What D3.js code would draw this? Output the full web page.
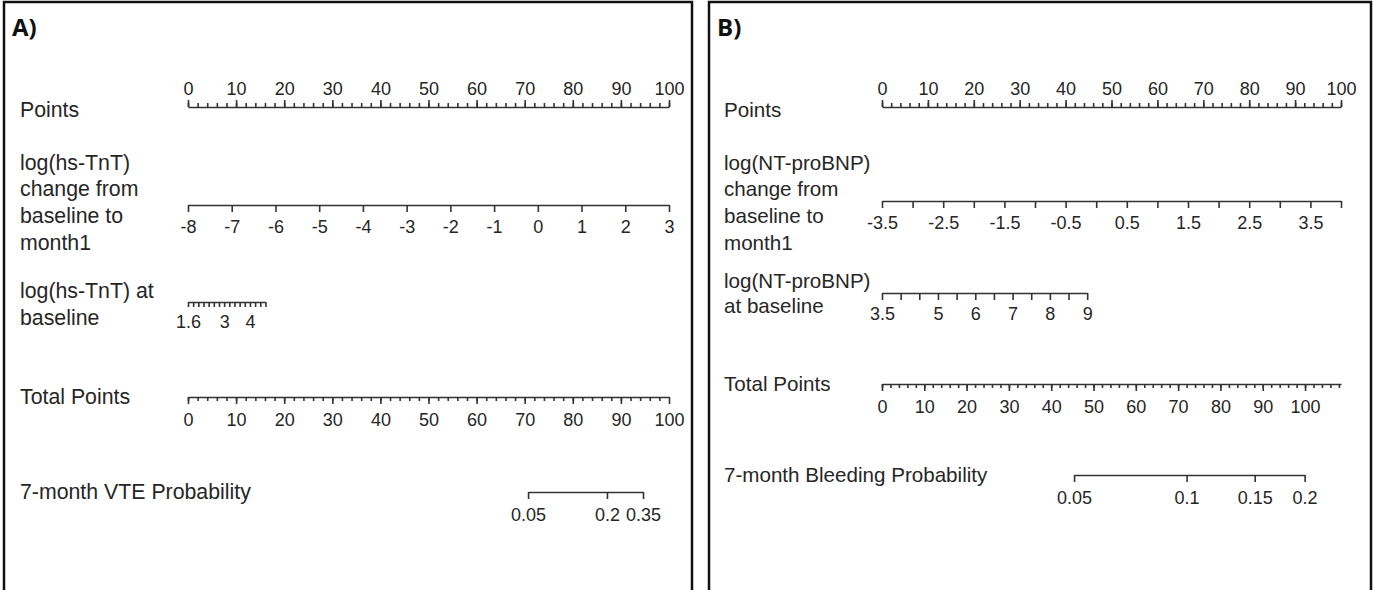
<!DOCTYPE html>
<html lang="en">
<head>
    <meta charset="UTF-8">
    <title>Nomograms: VTE and Bleeding Probability</title>
    <script src="https://cdnjs.cloudflare.com/ajax/libs/d3/7.8.5/d3.min.js"></script>
    <style>
        body { margin: 0; background: #fff; }
        svg { display: block; }
        .lbl { font-family: "Liberation Sans", Arial, sans-serif; fill: #262626; }
        .axis text { font-family: "Liberation Sans", Arial, sans-serif; fill: #262626; }
        .axis path, .axis line { stroke: #333; stroke-width: 1.6; }
    </style>
</head>
<body>
    <svg id="chart" width="1373" height="590"></svg>
    <script>
        // ---- Panel A data (VTE) ----
        const pointsTicksA = [0, 10, 20, 30, 40, 50, 60, 70, 80, 90, 100];
        const changeTicksA = [-8, -7, -6, -5, -4, -3, -2, -1, 0, 1, 2, 3];
        const changePtsA = [0, 100];                 // points at -8 and 3
        const baseTicksA = [1.6, 1.8, 2, 2.2, 2.4, 2.6, 2.8, 3, 3.2, 3.4, 3.6, 3.8, 4, 4.2, 4.4, 4.6];
        const baseLabelsA = [1.6, 3, 4];
        const basePtsA = [0, 16.1];                  // points at 1.6 and 4.6
        const totalTicksA = [0, 10, 20, 30, 40, 50, 60, 70, 80, 90, 100];
        const totalMaxA = 100;
        const vteProb = [0.05, 0.2, 0.35];
        const vteProbPts = [70.7, 87.1, 94.6];       // total points at each probability

        // ---- Panel B data (Bleeding) ----
        const pointsTicksB = [0, 10, 20, 30, 40, 50, 60, 70, 80, 90, 100];
        const changeTicksB = [-3.5, -3, -2.5, -2, -1.5, -1, -0.5, 0, 0.5, 1, 1.5, 2, 2.5, 3, 3.5, 4];
        const changeLabelsB = [-3.5, -2.5, -1.5, -0.5, 0.5, 1.5, 2.5, 3.5];
        const changePtsB = [0, 100];                 // points at -3.5 and 4
        const baseTicksB = [3.5, 4, 4.5, 5, 5.5, 6, 6.5, 7, 7.5, 8, 8.5, 9];
        const baseLabelsB = [3.5, 5, 6, 7, 8, 9];
        const basePtsB = [0, 44.7];                  // points at 3.5 and 9
        const totalTicksB = [0, 10, 20, 30, 40, 50, 60, 70, 80, 90, 100];
        const totalMaxB = 108.5;
        const bleedProb = [0.05, 0.1, 0.15, 0.2];
        const bleedProbPts = [45.4, 72.0, 88.1, 99.9];

        const svg = d3.select("#chart");
        const tickSize = 18;

        function axisRow(g, scale, y, opt) {
            const ax = (opt.top ? d3.axisTop(scale) : d3.axisBottom(scale))
                .tickValues(opt.ticks)
                .tickSize(opt.len)
                .tickSizeOuter(0)
                .tickPadding(opt.pad)
                .tickFormat(d => (opt.labels ? opt.labels.includes(d) : true) ? String(d) : "");
            const a = g.append("g").attr("transform", `translate(0,${y})`).call(ax);
            a.attr("class", "axis");
            a.selectAll("text").attr("font-size", tickSize + "px");
            return a;
        }

        function minorRow(g, scale, y, values, top) {
            const ax = (top ? d3.axisTop(scale) : d3.axisBottom(scale))
                .tickValues(values).tickSize(4).tickSizeOuter(0).tickFormat("");
            const a = g.append("g").attr("transform", `translate(0,${y})`).call(ax);
            a.attr("class", "axis");
            a.select(".domain").remove();
        }

        function label(g, x, lines, fs) {
            lines.forEach(([t, y]) => {
                g.append("text").attr("class", "lbl")
                    .attr("x", x).attr("y", y).attr("dy", "0.35em")
                    .attr("font-size", fs + "px").text(t);
            });
        }

        function drawPanel(p) {
            const g = svg.append("g");
            const fs = p.fs;
            g.append("rect")
                .attr("x", p.box[0]).attr("y", 2)
                .attr("width", p.box[1] - p.box[0]).attr("height", 600)
                .attr("fill", "none").attr("stroke", "#111").attr("stroke-width", 2.5);
            g.append("text")
                .attr("x", p.box[0] + 8).attr("y", 36)
                .attr("font-family", "'Open Sans', 'Liberation Sans', sans-serif")
                .attr("font-weight", "bold").attr("font-size", "24px").attr("fill", "#111")
                .text(p.tag);

            const x = d3.scaleLinear().domain([0, 100]).range(p.xr);
            const r = p.rows;

            // Points
            label(g, p.lx, [["Points", r.points + 3]], fs);
            axisRow(g, x, r.points, { top: true, ticks: p.pointsTicks, len: 7, pad: 5 });
            minorRow(g, x, r.points, d3.range(0, 101, 2), true);

            // change from baseline
            label(g, p.lx, p.changeLabel, fs);
            const xc = d3.scaleLinear()
                .domain([p.changeTicks[0], p.changeTicks[p.changeTicks.length - 1]])
                .range(p.changePts.map(x));
            axisRow(g, xc, r.change, { ticks: p.changeTicks, labels: p.changeLabels, len: 7, pad: 8 });

            // at baseline
            label(g, p.lx, p.baseLabel, fs);
            const xb = d3.scaleLinear()
                .domain([p.baseTicks[0], p.baseTicks[p.baseTicks.length - 1]])
                .range(p.basePts.map(x));
            axisRow(g, xb, r.base, { ticks: p.baseTicks, labels: p.baseLabels, len: p.baseLen, pad: p.basePad });

            // Total points
            const xt = d3.scaleLinear().domain([0, p.totalMax]).range(p.xr);
            label(g, p.lx, [["Total Points", r.total]], fs);
            axisRow(g, xt, r.total, { ticks: p.totalTicks, len: 7, pad: 9 });
            minorRow(g, xt, r.total, d3.range(0, p.totalMax, 2), false);

            // Probability
            const xp = d3.scaleLinear().domain(p.prob).range(p.probPts.map(xt));
            label(g, p.lx, [[p.probLabel, r.prob]], fs);
            axisRow(g, xp, r.prob, { ticks: p.prob, len: 7, pad: 9 });
        }

        drawPanel({
            tag: "A)", box: [4, 692], lx: 20, xr: [188, 669], fs: 21.3,
            rows: { points: 107, change: 205, base: 302, total: 397, prob: 492 },
            pointsTicks: pointsTicksA,
            changeLabel: [["log(hs-TnT)", 163], ["change from", 189], ["baseline to", 216], ["month1", 243]],
            changeTicks: changeTicksA, changeLabels: null, changePts: changePtsA,
            baseLabel: [["log(hs-TnT) at", 291], ["baseline", 318]],
            baseTicks: baseTicksA, baseLabels: baseLabelsA, basePts: basePtsA, baseLen: 5, basePad: 8,
            totalTicks: totalTicksA, totalMax: totalMaxA,
            prob: vteProb, probPts: vteProbPts, probLabel: "7-month VTE Probability"
        });

        drawPanel({
            tag: "B)", box: [709, 1371], lx: 724, xr: [882, 1341], fs: 20.6,
            rows: { points: 107, change: 201, base: 293, total: 384, prob: 475 },
            pointsTicks: pointsTicksB,
            changeLabel: [["log(NT-proBNP)", 163], ["change from", 189], ["baseline to", 216], ["month1", 243]],
            changeTicks: changeTicksB, changeLabels: changeLabelsB, changePts: changePtsB,
            baseLabel: [["log(NT-proBNP)", 281], ["at baseline", 306]],
            baseTicks: baseTicksB, baseLabels: baseLabelsB, basePts: basePtsB, baseLen: 7, basePad: 7,
            totalTicks: totalTicksB, totalMax: totalMaxB,
            prob: bleedProb, probPts: bleedProbPts, probLabel: "7-month Bleeding Probability"
        });
    </script>
</body>
</html>
